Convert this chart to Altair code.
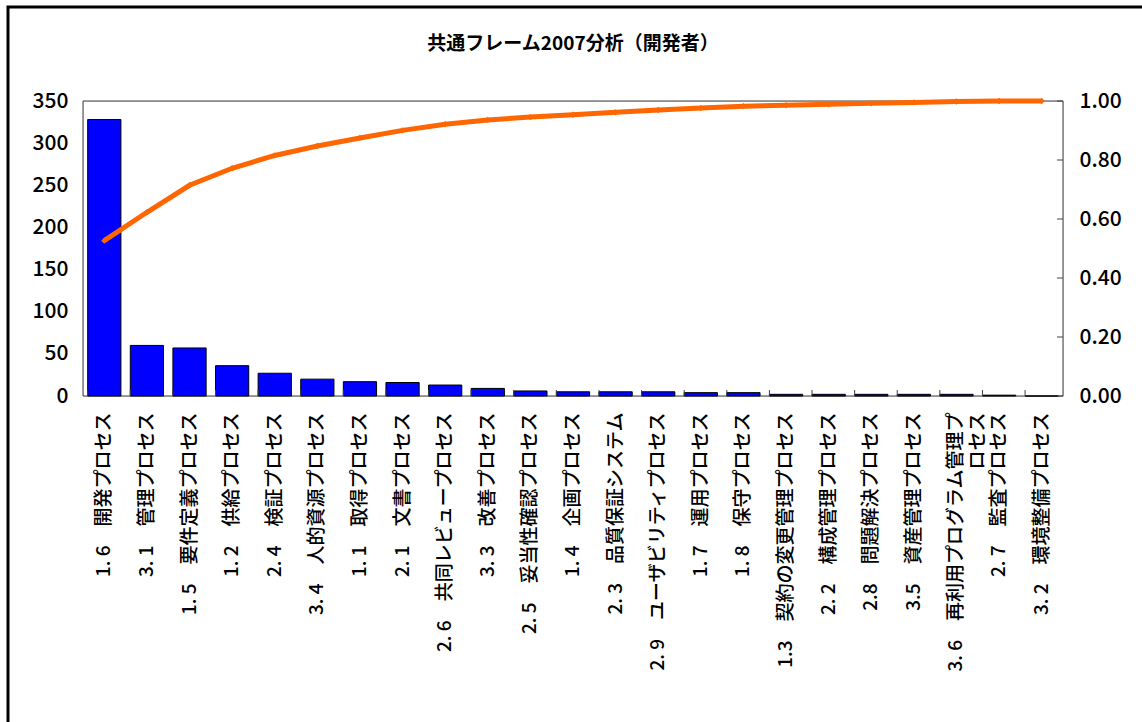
import altair as alt
import pandas as pd

categories = [
    "1. 6　開発プロセス",
    "3. 1　管理プロセス",
    "1. 5　要件定義プロセス",
    "1. 2　供給プロセス",
    "2. 4　検証プロセス",
    "3. 4　人的資源プロセス",
    "1. 1　取得プロセス",
    "2. 1　文書プロセス",
    "2. 6　共同レビュープロセス",
    "3. 3　改善プロセス",
    "2. 5　妥当性確認プロセス",
    "1. 4　企画プロセス",
    "2. 3　品質保証システム",
    "2. 9　ユーザビリティプロセス",
    "1. 7　運用プロセス",
    "1. 8　保守プロセス",
    "1.3　契約の変更管理プロセス",
    "2. 2　構成管理プロセス",
    "2.8　問題解決プロセス",
    "3.5　資産管理プロセス",
    "3. 6　再利用プログラム管理プ\nロセス",
    "2. 7　監査プロセス",
    "3. 2　環境整備プロセス",
]
counts = [328, 60, 57, 36, 27, 20, 17, 16, 13, 9, 6, 5, 5, 5, 4, 4, 2, 2, 2, 2, 2, 1, 0]
left_ticks = [0, 50, 100, 150, 200, 250, 300, 350]
right_ticks = [0.0, 0.2, 0.4, 0.6, 0.8, 1.0]
title_text = ["共通フレーム2007分析（開発者）"]

FONT = "Noto Sans CJK JP"
W, H = 980, 295

df = pd.DataFrame({"cat": categories, "val": counts, "order": list(range(len(categories)))})
ticks_df = pd.DataFrame({"t": right_ticks})
one = pd.DataFrame({"a": [0]})
title_df = pd.DataFrame({"title": title_text})

xenc = alt.X(
    "cat:N",
    sort=categories,
    scale=alt.Scale(paddingInner=0.22, paddingOuter=0.11),
    axis=alt.Axis(
        title=None, labelAngle=270, labelFontSize=19, labelFont=FONT, labelColor="black",
        labelFontWeight=500,
        labelLimit=400, labelPadding=16, ticks=False, domain=False, grid=False,
        labelExpr="split(datum.label, '\\n')", labelLineHeight=22,
    ),
)

base = alt.Chart(df)

bars = base.mark_bar(color="#0000FF", stroke="black", strokeWidth=1).encode(
    x=xenc,
    y=alt.Y(
        "val:Q",
        scale=alt.Scale(domain=[0, 350], nice=False),
        axis=alt.Axis(
            title=None, values=left_ticks, ticks=False, domain=False, grid=False,
            labelFontSize=21, labelFont=FONT, labelColor="black", labelPadding=15,
            labelFontWeight=500,
        ),
    ),
)

xticks = base.mark_rule(color="#404040", strokeWidth=1).encode(
    x=alt.X("cat:N", sort=categories, bandPosition=0),
    y=alt.value(H),
    y2=alt.value(H - 6),
)

cum = base.transform_window(
    cum="sum(val)", sort=[alt.SortField("order")], frame=[None, 0]
).transform_joinaggregate(total="sum(val)").transform_calculate(
    pct="datum.cum / datum.total"
)

raxis = alt.Axis(
    title=None, orient="right", values=right_ticks, format=".2f", ticks=False,
    domain=False, grid=False, labelFontSize=21, labelFont=FONT, labelColor="black",
    labelPadding=16, labelFontWeight=500,
)
rscale = alt.Scale(domain=[0, 1], nice=False)

line = cum.mark_line(color="#FF6600", strokeWidth=5).encode(
    x=xenc, y=alt.Y("pct:Q", scale=rscale, axis=raxis)
)
pts = cum.mark_point(shape="diamond", filled=True, size=40, color="#FF6600", opacity=1).encode(
    x=xenc, y=alt.Y("pct:Q", scale=rscale, axis=raxis)
)
rticks = alt.Chart(ticks_df).mark_rule(color="#404040", strokeWidth=1).encode(
    y=alt.Y("t:Q", scale=rscale, axis=raxis),
    x=alt.value(W - 6),
    x2=alt.value(W),
)

frame = alt.Chart(one).mark_rect(fillOpacity=0, stroke="#404040", strokeWidth=1).encode(
    x=alt.value(0), x2=alt.value(W), y=alt.value(0), y2=alt.value(H)
)
border = alt.Chart(one).mark_rect(fillOpacity=0, stroke="black", strokeWidth=3).encode(
    x=alt.value(-75), x2=alt.value(1100), y=alt.value(-94), y2=alt.value(700)
)
title = alt.Chart(title_df).mark_text(
    font=FONT, fontSize=19, fontWeight="bold", color="black", baseline="middle", align="center"
).encode(x=alt.value(W / 2), y=alt.value(-57), text="title:N")

left_group = alt.layer(bars, xticks)
right_group = alt.layer(line, pts, rticks)

chart = alt.layer(border, frame, title, left_group, right_group).resolve_scale(
    y="independent"
).properties(
    width=W,
    height=H,
    autosize=alt.AutoSizeParams(type="none"),
    padding={"left": 83, "top": 101, "right": 79, "bottom": 326},
).configure_view(strokeWidth=0).configure(background="white")

chart.save("out.html", embed_options={"renderer": "svg", "actions": False})
